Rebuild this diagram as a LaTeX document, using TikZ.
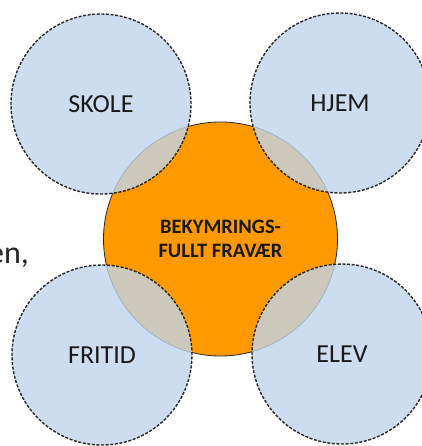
\documentclass[tikz,border=0pt]{standalone}
\usepackage{fontspec}
\setmainfont{Carlito}
\definecolor{cblue}{RGB}{192,213,235}
\definecolor{corange}{RGB}{255,153,0}
\definecolor{cline}{RGB}{40,40,40}
\begin{document}
\begin{tikzpicture}[x=1pt,y=-1pt]
\tikzset{
  core/.style={circle, fill=corange, draw=cline, line width=0.8pt, minimum size=234pt, inner sep=0pt,
    font=\bfseries\fontsize{20.5}{24}\selectfont, align=center, text=black!90},
  topic/.style={circle, fill=cblue, fill opacity=0.8, text opacity=1, draw=cline, draw opacity=1,
    line width=1.4pt, dash pattern=on 3pt off 1.6pt, minimum size=180pt, inner sep=0pt,
    font=\fontsize{26}{30}\selectfont, text=black!90},
  frag/.style={font=\fontsize{32}{38}\selectfont, text=black!85, inner sep=0pt, anchor=base east}
}
\useasboundingbox (0,0) rectangle (421,446);
\node[core] (c) at (220.5,239) {BEKYMRINGS-\\FULLT FRAVÆR};
\node[topic] (skole) at (101,104) {SKOLE};
\node[topic] (hjem) at (340,103) {HJEM};
\node[topic] (fritid) at (102,355) {FRITID};
\node[topic] (elev) at (342,354) {ELEV};
\node[frag] (en) at (29,263) {en,};
\end{tikzpicture}
\end{document}
